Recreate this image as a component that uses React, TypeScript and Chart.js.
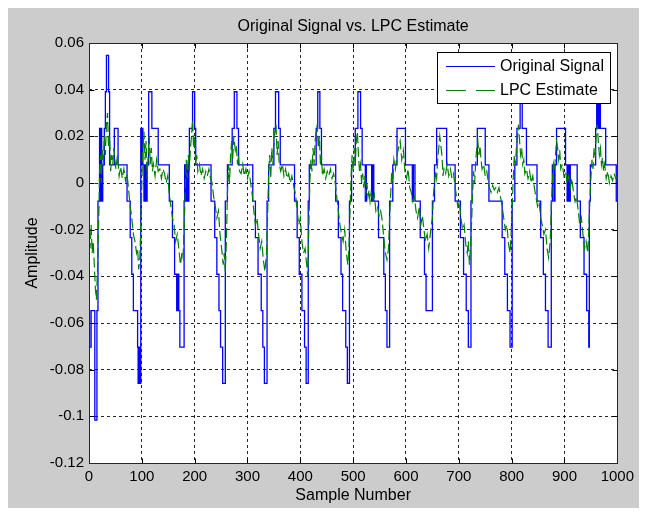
import React, { useEffect, useRef } from "react";
import { Chart, registerables } from "chart.js";

Chart.register(...registerables);

const TITLE = "Original Signal vs. LPC Estimate";
const X_LABEL = "Sample Number";
const Y_LABEL = "Amplitude";
const SERIES_NAMES = ["Original Signal", "LPC Estimate"];

const X_MIN = 0;
const X_MAX = 1000;
const X_STEP = 100;
const Y_MIN = -0.12;
const Y_MAX = 0.06;
const Y_STEP = 0.02;

// quantizer levels of the original signal (code -> amplitude)
const LEVEL_CODES = [-7, -6, -5, -4, -3, -2, -1, 1, 2, 3, 4];
const LEVEL_VALUES = [-0.1016, -0.0859, -0.0703, -0.0547, -0.0391, -0.0234, -0.0078, 0.0078, 0.0234, 0.0391, 0.0547];

// original signal: [sample where the level starts, level code]
const ORIGINAL_STEPS: [number, number][] = [
  [0, -4], [1, -5], [4, -4], [11, -7], [15, -4], [17, -1], [20, 2], [21, -1], [23, 2], [24, -1], [26, 1], [29, 2], [31, 3], [33, 4], [37, 3], [39, 1], [48, 2], [55, 1], [72, -1], [78, -2], [81, -3], [84, -4], [92, -5], [93, -6], [95, -5], [96, -6],
  [98, 2], [99, 1], [100, 2], [102, 1], [104, -1], [106, 1], [108, -1], [110, 1], [113, 3], [119, 2], [131, 1], [152, -1], [158, -2], [162, -3], [166, -4], [168, -3], [170, -4], [172, -5],
  [180, -1], [181, 1], [183, -1], [185, 1], [187, -1], [189, 1], [190, 2], [196, 3], [200, 2], [202, 1], [231, -1], [238, -2], [242, -3], [246, -4], [249, -5], [253, -6],
  [258, -1], [262, 1], [271, 2], [275, 3], [280, 2], [283, 1], [310, -1], [315, -2], [320, -3], [326, -4], [329, -5], [332, -6],
  [337, -1], [340, 1], [350, 2], [353, 3], [359, 2], [362, 1], [389, -1], [394, -2], [398, -3], [403, -4], [408, -5], [411, -6],
  [415, -1], [417, 1], [430, 2], [433, 3], [437, 2], [440, 1], [467, -1], [472, -2], [477, -3], [480, -4], [486, -5], [489, -6],
  [493, -1], [497, 1], [504, 2], [509, 3], [514, 2], [517, 1], [523, -1], [525, 1], [535, -1], [537, 1], [539, -1], [548, -2], [558, -3], [561, -4], [564, -5],
  [569, -1], [575, 1], [583, 2], [599, 1], [612, -1], [614, 1], [617, -1], [627, -2], [635, -3], [638, -4],
  [650, -1], [654, 1], [658, 2], [677, 1], [693, -1], [703, -2], [709, -3], [714, -4], [718, -5],
  [723, -1], [725, 1], [735, 2], [750, 1], [757, -1], [782, -2], [787, -3], [792, -4], [797, -5],
  [801, -1], [806, 1], [810, 2], [816, 3], [820, 2], [828, 1], [848, -1], [855, -2], [860, -3], [864, -4], [869, -5],
  [875, -1], [877, 1], [880, -1], [882, 1], [885, 2], [902, 1], [905, -1], [907, 1], [909, -1], [911, 1], [924, -1], [930, -2], [937, -3], [942, -4], [946, -5],
  [947, -1], [949, 1], [959, 2], [961, 3], [962, 2], [963, 3], [965, 2], [966, 3], [968, 2], [978, 1], [998, -1], [1000, -1],
];

// LPC estimate: [sample, amplitude x 1000]
const LPC_POINTS: [number, number][] = [
  [0, -20], [2, -28], [4, -18], [6, -30], [8, -25], [10, -35], [12, -45], [14, -50], [16, -38], [17, -28], [19, -10], [20, 5], [22, 12], [23, 0], [25, 15], [27, 8], [29, 20], [31, 12], [33, 25], [35, 30], [37, 15], [39, 20], [41, 5], [43, 12], [45, 8], [47, 15], [49, 10], [51, 6], [54, 12], [57, 3], [60, 7], [63, 2], [66, 6], [69, 1], [72, 4], [75, -3], [78, -10], [81, -15], [84, -22], [87, -25], [90, -30], [92, -28], [94, -37], [96, -33],
  [98, -20], [100, 0], [102, 15], [104, 22], [106, 10], [108, 18], [110, 2], [112, 12], [114, 20], [116, 8], [118, 15], [120, 5], [122, 8], [125, 3], [128, 10], [131, 5], [134, 6], [137, 2], [140, 6], [143, 4], [146, 0], [149, 3], [152, -5], [155, -10], [158, -15], [161, -18], [164, -25], [167, -22], [170, -28], [173, -35], [176, -30], [178, -32],
  [180, -20], [182, -5], [184, 10], [186, 2], [188, 12], [190, 5], [192, 15], [194, 20], [196, 27], [198, 15], [200, 20], [202, 8], [204, 12], [206, 5], [209, 8], [212, 3], [215, 6], [218, 2], [221, 5], [224, 3], [227, 6], [230, 2], [233, 0], [236, -6], [239, -10], [242, -15], [245, -12], [248, -22], [251, -28], [254, -35], [256, -30],
  [258, -38], [260, -25], [262, -5], [264, 8], [266, 0], [268, 12], [270, 18], [272, 10], [274, 20], [277, 14], [279, 16], [281, 8], [283, 12], [285, 5], [288, 4], [291, 8], [294, 3], [297, 6], [300, 2], [303, 5], [306, 0], [309, -5], [312, -12], [315, -18], [318, -15], [321, -22], [324, -28], [327, -25], [330, -33], [333, -38], [336, -30],
  [338, -15], [340, 5], [342, 12], [344, 2], [346, 15], [348, 8], [350, 18], [352, 22], [354, 25], [356, 12], [358, 18], [360, 8], [363, 5], [366, 8], [369, 3], [372, 6], [375, 2], [378, 4], [381, 0], [384, 3], [388, -2], [391, -5], [394, -12], [397, -18], [400, -15], [403, -25], [406, -30], [409, -28], [412, -35], [414, -40],
  [416, -20], [418, 0], [420, 10], [422, 5], [424, 15], [426, 8], [428, 18], [430, 22], [432, 25], [434, 15], [436, 20], [438, 8], [440, 12], [442, 3], [445, 6], [448, 2], [451, 5], [454, 3], [457, 6], [460, 2], [463, 4], [466, 0], [469, -6], [472, -12], [475, -18], [478, -22], [481, -25], [484, -20], [487, -30], [490, -35], [492, -28],
  [494, -12], [496, 2], [498, 12], [500, 5], [502, 15], [504, 8], [506, 18], [508, 22], [510, 12], [512, 5], [514, 8], [516, 0], [518, 4], [520, -2], [522, 3], [524, -5], [526, 0], [528, -6], [530, -3], [532, -8], [534, -4], [537, -8], [540, -5], [543, -12], [546, -10], [549, -14], [552, -12], [555, -16], [558, -24], [561, -30], [564, -33], [567, -28],
  [569, -15], [571, -5], [573, 5], [575, 0], [577, 10], [580, 6], [583, 12], [586, 15], [589, 18], [592, 10], [595, 14], [598, 5], [601, 2], [604, 6], [607, -2], [610, -4], [613, -8], [616, -6], [619, -12], [622, -15], [625, -10], [628, -18], [631, -14], [634, -20], [637, -25], [640, -22], [643, -28], [646, -22], [648, -18],
  [650, -15], [652, -5], [654, 0], [656, 5], [658, 2], [660, 10], [662, 15], [664, 20], [666, 16], [668, 12], [670, 3], [672, 6], [675, 4], [678, 8], [681, 3], [684, 6], [687, 2], [690, 4], [692, 0], [695, -5], [698, -10], [701, -8], [704, -15], [707, -20], [710, -18], [713, -26], [716, -30], [718, -25], [720, -35], [722, -28],
  [724, -18], [726, -5], [728, 5], [730, 0], [732, 10], [734, 15], [736, 18], [738, 12], [740, 16], [742, 10], [744, 6], [747, 8], [750, 3], [753, 5], [756, 0], [758, -2], [761, -4], [764, -1], [767, -3], [770, -2], [773, -4], [776, -2], [779, -6], [782, -10], [785, -15], [788, -20], [791, -18], [794, -26], [797, -30], [799, -22],
  [801, -10], [803, 2], [805, 12], [807, 8], [809, 15], [811, 20], [813, 25], [815, 18], [817, 12], [819, 15], [821, 8], [823, 10], [825, 4], [828, 6], [831, 2], [834, 5], [837, 0], [840, 3], [843, -2], [846, -6], [849, -10], [852, -8], [855, -15], [858, -18], [861, -22], [864, -20], [867, -28], [870, -32], [873, -25],
  [875, -12], [877, 0], [879, 8], [881, 5], [883, 12], [885, 18], [887, 15], [889, 10], [891, 14], [893, 6], [896, 8], [899, 3], [902, 5], [905, 0], [908, 3], [911, -2], [914, 2], [917, -4], [920, -8], [923, -6], [926, -12], [929, -18], [932, -15], [935, -22], [938, -28], [941, -25], [944, -30], [946, -20],
  [948, -8], [950, 2], [952, 10], [954, 6], [956, 15], [958, 12], [960, 20], [962, 25], [964, 18], [966, 12], [968, 15], [970, 8], [972, 11], [974, 5], [976, 8], [979, 2], [982, 5], [985, 0], [988, 3], [991, 1], [994, 4], [997, 2], [1000, 3],
];

const FONT = "'Liberation Sans', Arial, Helvetica, sans-serif";
const BLUE = "#0000ff";
const GREEN = "#008000";
const FIG_BG = "#cccccc";

function levelValue(code: number): number {
  const i = LEVEL_CODES.indexOf(code);
  return LEVEL_VALUES[i];
}

function fmtY(v: number): string {
  const r = Math.round(v * 100) / 100;
  if (Math.abs(r) < 1e-9) return "0";
  return String(r);
}

const matlabPlugin = {
  id: "matlabFrame",
  beforeDraw(chart: any) {
    const { ctx, chartArea: a, width, height } = chart;
    ctx.save();
    ctx.fillStyle = FIG_BG;
    ctx.fillRect(0, 0, width, height);
    ctx.fillStyle = "#ffffff";
    ctx.fillRect(a.left, a.top, a.right - a.left, a.bottom - a.top);
    ctx.restore();
  },
  afterDraw(chart: any) {
    const { ctx, chartArea: a } = chart;
    const xs = chart.scales.x;
    const ys = chart.scales.y;
    ctx.save();
    ctx.setLineDash([]);
    // inward tick marks
    ctx.strokeStyle = "#000000";
    ctx.lineWidth = 1;
    ctx.beginPath();
    const L = Math.round(a.left) + 0.5;
    const R = Math.round(a.right) + 0.5;
    const T = Math.round(a.top) + 0.5;
    const B = Math.round(a.bottom) + 0.5;
    for (let v = X_MIN; v <= X_MAX; v += X_STEP) {
      const px = Math.round(xs.getPixelForValue(v)) + 0.5;
      ctx.moveTo(px, B);
      ctx.lineTo(px, B - 5);
      ctx.moveTo(px, T);
      ctx.lineTo(px, T + 5);
    }
    for (let k = 0; k <= Math.round((Y_MAX - Y_MIN) / Y_STEP); k++) {
      const v = Y_MIN + k * Y_STEP;
      const py = Math.round(ys.getPixelForValue(v)) + 0.5;
      ctx.moveTo(L, py);
      ctx.lineTo(L + 5, py);
      ctx.moveTo(R, py);
      ctx.lineTo(R - 5, py);
    }
    ctx.stroke();
    // axes box
    ctx.strokeStyle = "#262626";
    ctx.strokeRect(L, T, R - L, B - T);

    // title and axis labels
    ctx.fillStyle = "#000000";
    ctx.font = `16px ${FONT}`;
    ctx.textAlign = "center";
    ctx.textBaseline = "middle";
    ctx.fillText(TITLE, (a.left + a.right) / 2, a.top - 16);
    ctx.fillText(X_LABEL, (a.left + a.right) / 2, a.bottom + 33);
    ctx.save();
    ctx.translate(a.left - 56, (a.top + a.bottom) / 2);
    ctx.rotate(-Math.PI / 2);
    ctx.fillText(Y_LABEL, 0, 0);
    ctx.restore();

    // legend box
    const bw = 173;
    const bh = 51;
    const bx = Math.round(a.right - 7 - bw);
    const by = Math.round(a.top + 9);
    ctx.fillStyle = "#ffffff";
    ctx.fillRect(bx, by, bw, bh);
    ctx.strokeStyle = "#000000";
    ctx.strokeRect(bx + 0.5, by + 0.5, bw, bh);
    const y1 = by + 14;
    const y2 = by + 38;
    ctx.fillStyle = BLUE;
    ctx.fillRect(bx + 9, y1, 49, 1);
    ctx.fillStyle = GREEN;
    ctx.fillRect(bx + 9, y2, 20, 1);
    ctx.fillRect(bx + 39, y2, 19, 1);
    ctx.fillStyle = "#000000";
    ctx.textAlign = "left";
    ctx.textBaseline = "middle";
    ctx.font = `16px ${FONT}`;
    ctx.fillText(SERIES_NAMES[0], bx + 63, y1 + 0.5);
    ctx.fillText(SERIES_NAMES[1], bx + 63, y2 + 0.5);
    ctx.restore();
  },
};

export default function App() {
  const ref = useRef<HTMLCanvasElement | null>(null);

  useEffect(() => {
    const canvas = ref.current;
    if (!canvas) return;
    const origData = ORIGINAL_STEPS.map(([x, c]) => ({ x, y: levelValue(c) }));
    const lpcData = LPC_POINTS.map(([x, m]) => ({ x, y: m / 1000 }));

    const chart = new Chart(canvas, {
      type: "line",
      data: {
        datasets: [
          {
            label: SERIES_NAMES[1],
            data: lpcData,
            borderColor: GREEN,
            borderWidth: 1.2,
            borderDash: [10, 4],
            pointRadius: 0,
            tension: 0,
            order: 0,
          } as any,
          {
            label: SERIES_NAMES[0],
            data: origData,
            borderColor: BLUE,
            borderWidth: 1.3,
            stepped: true,
            pointRadius: 0,
            order: 1,
          } as any,
        ],
      },
      options: {
        responsive: false,
        animation: false,
        devicePixelRatio: 1,
        parsing: false as any,
        normalized: true,
        layout: { padding: { top: 35, right: 20, left: 0, bottom: 0 } },
        plugins: {
          legend: { display: false },
          tooltip: { enabled: false },
          title: { display: false },
        },
        scales: {
          x: {
            type: "linear",
            min: X_MIN,
            max: X_MAX,
            ticks: {
              stepSize: X_STEP,
              color: "#000000",
              font: { family: FONT, size: 15 },
              padding: 5,
              maxRotation: 0,
              autoSkip: false,
              callback: (v: any) => String(Math.round(Number(v))),
            },
            grid: { color: "rgba(0,0,0,0.85)", lineWidth: 1, drawTicks: false },
            border: { display: false, dash: [3, 3] },
            afterFit: (s: any) => {
              s.height = 45;
            },
          },
          y: {
            type: "linear",
            min: Y_MIN,
            max: Y_MAX,
            ticks: {
              stepSize: Y_STEP,
              color: "#000000",
              font: { family: FONT, size: 15 },
              padding: 5,
              autoSkip: false,
              callback: (v: any) => fmtY(Number(v)),
            },
            grid: { color: "rgba(0,0,0,0.85)", lineWidth: 1, drawTicks: false },
            border: { display: false, dash: [3, 3] },
            afterFit: (s: any) => {
              s.width = 81;
            },
          },
        },
      },
      plugins: [matlabPlugin],
    } as any);

    return () => chart.destroy();
  }, []);

  return <canvas ref={ref} width={631} height={500} style={{ display: "block" }} />;
}
